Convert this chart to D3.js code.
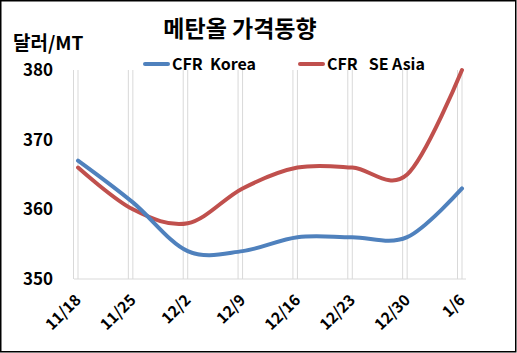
<!DOCTYPE html>
<html>
<head>
<meta charset="utf-8">
<script src="https://cdn.jsdelivr.net/npm/d3@7"></script>
<style>
  body { margin: 0; background: #fff; }
  text { font-family: "Noto Sans CJK KR", "Noto Sans", sans-serif; font-weight: bold; fill: #000; }
</style>
</head>
<body>
<div id="chart"></div>
<script>
    var dates = ["11/18", "11/25", "12/2", "12/9", "12/16", "12/23", "12/30", "1/6"];
    var korea = [367, 361, 354, 354, 356, 356, 356, 363];
    var seAsia = [366, 360, 358, 363, 366, 366, 365, 380];
    var yTicks = [350, 360, 370, 380];

    var width = 517, height = 353;

    var svg = d3.select("#chart").append("svg")
        .attr("width", width)
        .attr("height", height);

    // chart border
    svg.append("rect")
        .attr("x", 0.75).attr("y", 0.75)
        .attr("width", width - 2).attr("height", height - 2)
        .attr("fill", "#fff")
        .attr("stroke", "#000")
        .attr("stroke-width", 1.5);

    var x = d3.scalePoint()
        .domain(dates)
        .range([78, 462]);

    var y = d3.scaleLinear()
        .domain([350, 380])
        .range([279, 70]);

    // grid lines (pairs, like the original)
    var grid = svg.append("g");
    dates.forEach(function (d) {
        [-4.5, 0].forEach(function (off) {
            grid.append("line")
                .attr("x1", x(d) + off).attr("x2", x(d) + off)
                .attr("y1", y(380)).attr("y2", y(350))
                .attr("stroke", "#d9d9d9")
                .attr("stroke-width", 1);
        });
    });

    // x axis line
    svg.append("line")
        .attr("x1", 74).attr("x2", 466)
        .attr("y1", y(350)).attr("y2", y(350))
        .attr("stroke", "#d9d9d9")
        .attr("stroke-width", 1);

    // y tick labels
    svg.append("g").selectAll("text")
        .data(yTicks)
        .enter().append("text")
        .attr("x", 53)
        .attr("y", function (d) { return y(d); })
        .attr("dy", "0.36em")
        .attr("text-anchor", "end")
        .style("font-size", "17px")
        .text(function (d) { return d; });

    // x tick labels
    svg.append("g").selectAll("text")
        .data(dates)
        .enter().append("text")
        .attr("transform", function (d) { return "translate(" + (x(d) + 4) + ",301) rotate(-45)"; })
        .attr("text-anchor", "end")
        .style("font-size", "15.5px")
        .text(function (d) { return d; });

    var line = d3.line()
        .x(function (d, i) { return x(dates[i]); })
        .y(function (d) { return y(d); })
        .curve(d3.curveCardinal.tension(0));

    svg.append("path")
        .datum(seAsia)
        .attr("d", line)
        .attr("fill", "none")
        .attr("stroke", "#C0504D")
        .attr("stroke-width", 4)
        .attr("stroke-linecap", "round");

    svg.append("path")
        .datum(korea)
        .attr("d", line)
        .attr("fill", "none")
        .attr("stroke", "#4F81BD")
        .attr("stroke-width", 4)
        .attr("stroke-linecap", "round");

    // title and unit
    svg.append("text")
        .attr("x", 240).attr("y", 37)
        .attr("text-anchor", "middle")
        .style("font-size", "23px")
        .text("메탄올 가격동향");

    svg.append("text")
        .attr("x", 13).attr("y", 50)
        .style("font-size", "19px")
        .text("달러/MT");

    // legend
    var legend = [
        { name: "CFR  Korea", color: "#4F81BD", x: 143 },
        { name: "CFR   SE Asia", color: "#C0504D", x: 298 }
    ];
    legend.forEach(function (l) {
        svg.append("line")
            .attr("x1", l.x + 2).attr("x2", l.x + 25)
            .attr("y1", 64).attr("y2", 64)
            .attr("stroke", l.color)
            .attr("stroke-width", 4)
            .attr("stroke-linecap", "round");
        svg.append("text")
            .attr("x", l.x + 29).attr("y", 64)
            .attr("dy", "0.36em")
            .attr("xml:space", "preserve")
            .style("white-space", "pre")
            .style("font-size", "16px")
            .text(l.name);
    });
</script>
</body>
</html>
